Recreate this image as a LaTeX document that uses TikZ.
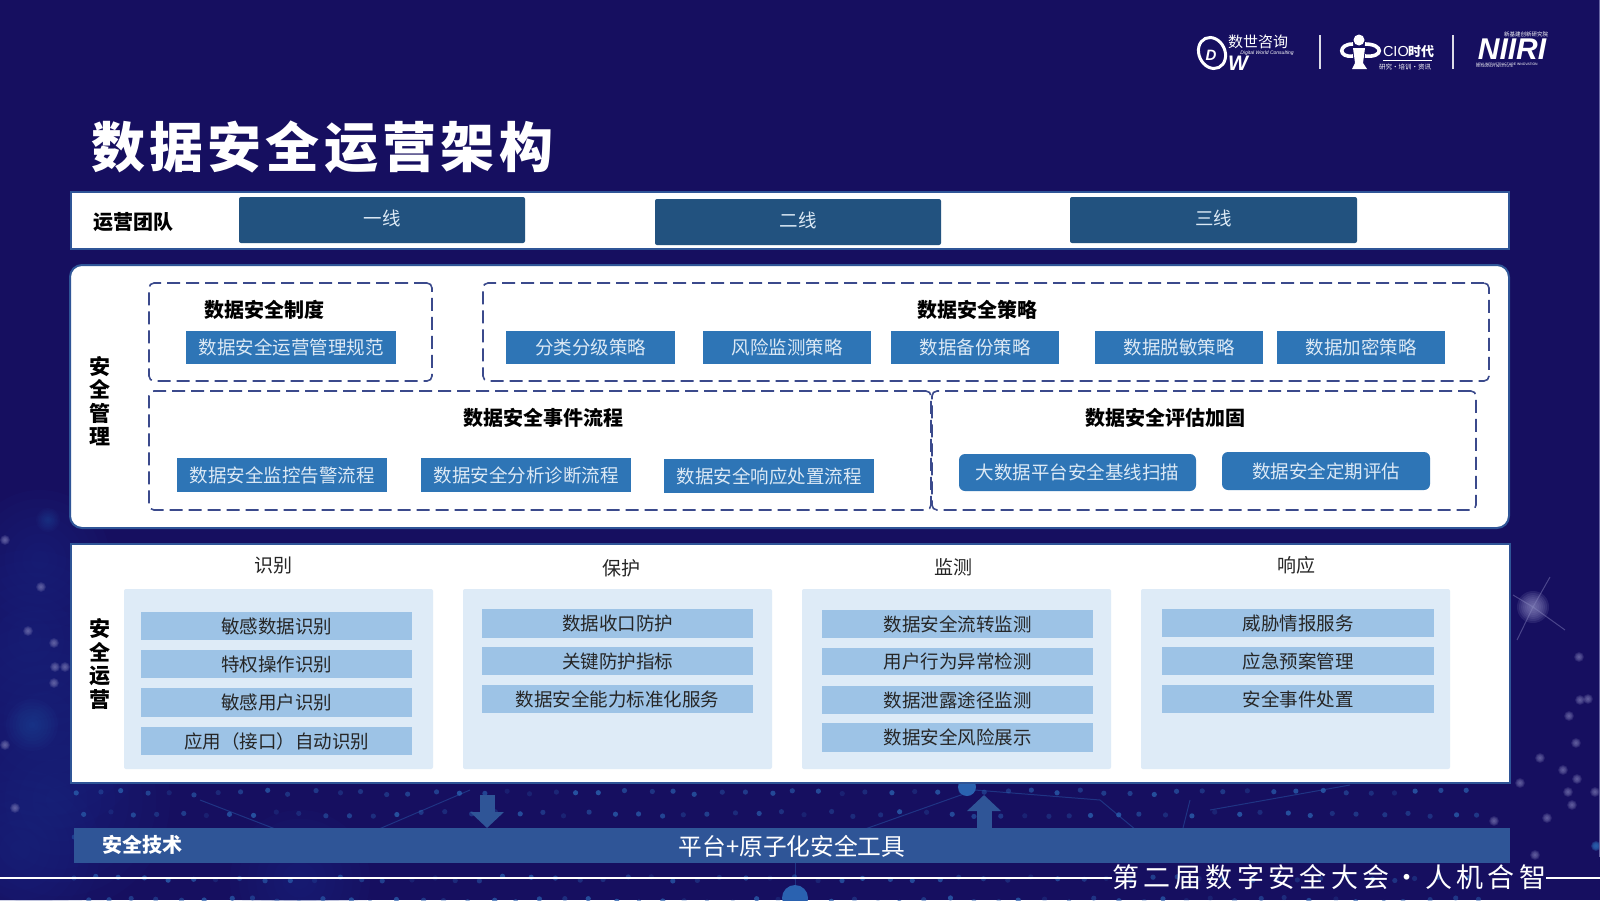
\documentclass[tikz,border=0pt]{standalone}
\usepackage{fontspec}
\setmainfont{Noto Sans CJK SC}
\newfontfamily\latinf{Liberation Sans}
\usetikzlibrary{arrows.meta}
\definecolor{navy}{HTML}{160F60}
\definecolor{cloud}{HTML}{1C2C88}
\definecolor{edge}{HTML}{2F5597}
\definecolor{dashc}{HTML}{3B4A8C}
\definecolor{teamc}{HTML}{22527F}
\definecolor{boxc}{HTML}{2E75B6}
\definecolor{rowc}{HTML}{9DC3E6}
\definecolor{colc}{HTML}{DEEBF7}
\definecolor{techc}{HTML}{2F5597}
\definecolor{boxtxt}{HTML}{DCE9F5}
\definecolor{dotc}{HTML}{2A62B0}
\definecolor{stard}{HTML}{8A88C0}
\newcommand{\fpx}[1]{\fontsize{\fpeval{#1*0.5}}{\fpeval{#1*0.6}}\selectfont}
\newcommand{\bx}[7][]{\node[#1] (#2) at ({(#3+#5)/2},{(#4+#6)/2}) [minimum width={(#5-#3)*0.5pt},minimum height={(#6-#4)*0.5pt}] {#7};}
\newcommand{\glow}[5]{\foreach \k in {1,...,8}{\fill[#4,opacity=#5] (#1,#2) circle ({#3*\k/8});}}
\tikzset{
 x=0.5pt,y=-0.5pt,
 every node/.style={inner sep=0pt,outer sep=0pt,align=center},
 panel/.style={fill=white,draw=edge,line width=1pt},
 dashbox/.style={draw=dashc,line width=0.8pt,dash pattern=on 6.5pt off 3pt,rounded corners=2.5pt},
 team/.style={fill=teamc,text=boxtxt,rounded corners=1pt,font=\fpx{18.5}},
 sbox/.style={fill=boxc,text=boxtxt,font=\fpx{18.5}},
 rbox/.style={fill=boxc,text=boxtxt,font=\fpx{18.5},rounded corners=3pt},
 colbg/.style={fill=colc,rounded corners=1pt},
 row/.style={fill=rowc,text=black!85,font=\fpx{18.5}},
 head/.style={font=\fpx{20}\bfseries,text=black},
 coltitle/.style={font=\fpx{19},text=black!85},
 side/.style={font=\fpx{21}\bfseries,text=black,execute at begin node={\setlength{\baselineskip}{11.7pt}}},
 logo/.style={text=white},
 blockarrow/.style={draw=techc,line width=7.5pt,-{Triangle[length=8pt,width=16.5pt]}},
}
\begin{document}
\begin{tikzpicture}
\useasboundingbox (0,0) rectangle (1600,900);
% background
\fill[navy] (0,0) rectangle (1600,900);
% left cloud
\foreach \cx/\cy/\cr in {40/560/70, 30/640/90, 45/720/110, 60/800/110, 20/850/80, 300/880/70}{
  \glow{\cx}{\cy}{\cr}{cloud}{0.08}
}
\glow{32}{725}{26}{dotc}{0.05}
\glow{48}{520}{12}{dotc}{0.05}
% dense dots in the bottom band
\pgfmathsetseed{4217}
\foreach \r in {0,...,5}{
  \foreach \c in {0,...,58}{
    \pgfmathsetmacro{\xa}{70+\c*24+mod(\r,2)*12+rnd*7}
    \pgfmathsetmacro{\ya}{790+\r*21.5+rnd*5}
    \pgfmathsetmacro{\oa}{0.2+rnd*0.6}
    \fill[dotc,opacity=\oa] (\xa,\ya) circle (2.6);
  }
}
\foreach \a/\b/\c/\d in {820/845/975/790, 975/790/1100/800, 1100/800/1160/850, 1190/800/1175/860, 1210/810/1350/785, 200/800/330/850, 330/850/470/790, 795/863/795/898}{
  \draw[dotc,opacity=.45,line width=.5pt] (\a,\b) -- (\c,\d);
}
\fill[dotc] (795,898) circle (13);
\fill[dotc] (967,787) circle (9);
% scattered soft dots
\foreach \q/\w in {1579/657,1580/700,1588/699,1569/716,1576/743,1540/758,1563/770,1577/779,1568/792,1595/792,1572/805,1547/818,1520/783,1494/821,1535/855,
  5/540,41/587,28/631,54/643,55/667,65/667,54/683,5/745,15/808}{
  \glow{\q}{\w}{5}{stard}{0.13}
}
\glow{1596}{846}{5}{dotc}{0.3}
% star
\foreach \ex/\ey in {1550/577,1513/595,1565/630,1517/640}{
  \draw[stard,opacity=.45,line width=.5pt] (1533,607) -- (\ex,\ey);
}
\glow{1533}{607}{16}{stard}{0.16}
\draw[stard!70!navy,line width=.5pt] (1599,0) -- (1599,857);
% logos
\node[logo,font=\fpx{15}\itshape] (lg1a) at (1258,42) {数世咨询};
\node[logo,font=\latinf\fpx{5}\itshape] (lg1b) at (1267,53) {Digital World Consulting};
\node[logo,font=\latinf\fpx{21}\bfseries\itshape] (lg1c) at (1238,63) {W};
\draw[white,line width=1.5pt,rotate around={25:(1212,53)}] (1212,53) ellipse (13 and 16);
\node[logo,font=\latinf\fpx{15}\bfseries\itshape] (lg1d) at (1211,55) {D};
\draw[white!85!navy,line width=.6pt] (1320,35) -- (1320,69);
\fill[white] (1359,40) circle (5.5);
\fill[white] (1353,48) -- (1365,48) -- (1363,63) -- (1367,69) -- (1352,69) -- (1355,63) -- cycle;
\draw[white,line width=1.8pt] (1353,44) .. controls (1338,44) and (1338,58) .. (1353,56);
\draw[white,line width=1.8pt] (1365,44) .. controls (1384,44) and (1384,58) .. (1365,56);
\node[logo,font=\latinf\fpx{14.5},anchor=west] (lg2a) at (1383,52) {CIO};
\node[logo,font=\fpx{13}\bfseries,anchor=west] (lg2b) at (1408,52) {时代};
\draw[white,line width=.4pt] (1383,60) -- (1432,60);
\node[logo,font=\fpx{6.5},anchor=west] (lg2c) at (1379,67) {研究·培训·资讯};
\draw[white!85!navy,line width=.6pt] (1453,35) -- (1453,69);
\node[logo,font=\latinf\fpx{30}\bfseries\itshape] (lg3a) at (1512,49) {NIIRI};
\node[logo,font=\fpx{5.5}] (lg3b) at (1526,34.5) {新基建创新研究院};
\node[logo,font=\latinf\fpx{3.4},align=left,anchor=north west] (lg3c) at (1476,63.5) {NEW INFRASTRUCTURE INNOVATION\\[-1.2pt]RESEARCH INSTITUTE};
% title
\node[text=white,font=\fpx{54}\bfseries\addfontfeature{LetterSpace=8},anchor=west] (title) at (91,147) {数据安全运营架构};
% team
\bx[panel]{teamp}{71}{192}{1509}{249}{}
\node[head,anchor=west] (teaml) at (93,222) {运营团队};
\bx[team]{t1}{239}{197}{525}{243}{\raisebox{2.5pt}{一线}}
\bx[team]{t2}{655}{199}{941}{245}{\raisebox{2.5pt}{二线}}
\bx[team]{t3}{1070}{197}{1357}{243}{\raisebox{2.5pt}{三线}}
% management
\bx[panel,rounded corners=6pt]{mgmt}{70}{265}{1509}{528}{}
\node[side] (mgl) at (100,401) {安\\全\\管\\理};
\bx[dashbox]{d1}{149}{283}{432}{381}{}
\bx[dashbox]{d2}{483}{283}{1489}{381}{}
\bx[dashbox]{d3}{149}{391}{931}{510}{}
\bx[dashbox]{d4}{932}{391}{1476}{510}{}
\node[head] (h1) at (264,310) {数据安全制度};
\node[head] (h2) at (977,310) {数据安全策略};
\node[head] (h3) at (543,418) {数据安全事件流程};
\node[head] (h4) at (1165,418) {数据安全评估加固};
\bx[sbox]{a1}{186}{331}{396}{364}{数据安全运营管理规范}
\bx[sbox]{b1}{506}{331}{675}{364}{分类分级策略}
\bx[sbox]{b2}{703}{331}{871}{364}{风险监测策略}
\bx[sbox]{b3}{891}{331}{1059}{364}{数据备份策略}
\bx[sbox]{b4}{1095}{331}{1263}{364}{数据脱敏策略}
\bx[sbox]{b5}{1277}{331}{1445}{364}{数据加密策略}
\bx[sbox]{c1}{177}{458}{387}{492}{数据安全监控告警流程}
\bx[sbox]{c2}{421}{458}{631}{492}{数据安全分析诊断流程}
\bx[sbox]{c3}{664}{459}{874}{493}{数据安全响应处置流程}
\bx[rbox]{e1}{959}{454}{1196}{491}{大数据平台安全基线扫描}
\bx[rbox]{e2}{1222}{452}{1430}{490}{数据安全定期评估}
% operations
\bx[panel]{ops}{71}{544}{1510}{783}{}
\node[side] (opl) at (100,664) {安\\全\\运\\营};
\node[coltitle] (k1) at (273,565) {识别};
\node[coltitle] (k2) at (621,568) {保护};
\node[coltitle] (k3) at (953,567) {监测};
\node[coltitle] (k4) at (1296,565) {响应};
\bx[colbg]{g1}{124}{589}{433}{769}{}
\bx[colbg]{g2}{463}{589}{772}{769}{}
\bx[colbg]{g3}{802}{589}{1111}{769}{}
\bx[colbg]{g4}{1141}{589}{1450}{769}{}
\bx[row]{r11}{141}{612}{412}{640}{敏感数据识别}
\bx[row]{r12}{141}{650}{412}{678}{特权操作识别}
\bx[row]{r13}{141}{688}{412}{717}{敏感用户识别}
\bx[row]{r14}{141}{727}{412}{755}{应用（接口）自动识别}
\bx[row]{r21}{482}{609}{753}{638}{数据收口防护}
\bx[row]{r22}{482}{647}{753}{675}{关键防护指标}
\bx[row]{r23}{482}{685}{753}{713}{数据安全能力标准化服务}
\bx[row]{r31}{822}{610}{1093}{638}{数据安全流转监测}
\bx[row]{r32}{822}{648}{1093}{675}{用户行为异常检测}
\bx[row]{r33}{822}{686}{1093}{714}{数据泄露途径监测}
\bx[row]{r34}{822}{723}{1093}{752}{数据安全风险展示}
\bx[row]{r41}{1162}{609}{1434}{637}{威胁情报服务}
\bx[row]{r42}{1162}{647}{1434}{675}{应急预案管理}
\bx[row]{r43}{1162}{685}{1434}{713}{安全事件处置}
% tech
\bx[fill=techc]{tech}{74}{828}{1510}{863}{}
\node[text=white,font=\fpx{20}\bfseries,anchor=west] (techl) at (102,845) {安全技术};
\node[text=white,font=\fpx{23.7}] (techm) at (792,846) {平台+原子化安全工具};
\coordinate (dn) at (487,795);
\coordinate (up) at (984,795);
\draw[blockarrow] (dn) -- (dn |- tech.north);
\draw[blockarrow] (up |- tech.north) -- (up);
% footer
\node[text=white,font=\fpx{27}\addfontfeature{LetterSpace=16},anchor=west] (foot) at (1112,877) {第二届数字安全大会·人机合智};
\coordinate (fl) at (0,878);
\coordinate (fr) at (1600,878);
\draw[white,line width=.7pt] (fl) -- (foot.west |- fl);
\draw[white,line width=.7pt] (foot.east |- fr) -- (fr);
\end{tikzpicture}
\end{document}
